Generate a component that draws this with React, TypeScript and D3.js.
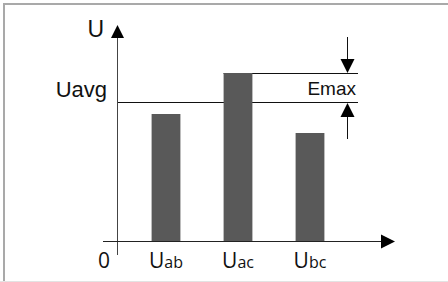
import React from 'react';
import * as d3 from 'd3';

const phases = ['ab', 'ac', 'bc'];
const voltages = [127, 168, 108];
const uAvg = 139;
const yLabels = ['U', 'Uavg', 'Emax'];

const W = 448, H = 282;
const x0 = 241; // y of zero line

const App = () => {
    const x = d3.scaleBand()
        .domain(phases)
        .range([130, 346])
        .paddingInner(0.6)
        .paddingOuter(0.3);

    const y = d3.scaleLinear()
        .domain([0, 200])
        .range([x0, x0 - 200]);

    const axisX = 117;
    const uacLeft = x('ac');
    const eTop = y(d3.max(voltages));
    const eBot = y(uAvg);
    const arrX = 347;
    const sans = 'Arial, "Liberation Sans", sans-serif';
    const label = '"Open Sans", sans-serif';

    return (
        <svg width={W} height={H} style={{ position: 'absolute', left: 0, top: 0 }}>
            <rect width={W} height={H} fill="#fff" />
            <path d={`M4,${H} V4 H${W}`} fill="none" stroke="#a9a9a9" strokeWidth={2} />
            <line x1={0} x2={W} y1={281.5} y2={281.5} stroke="#e3e3e3" />

            {/* avg and max lines */}
            <line x1={axisX} x2={358} y1={eBot + 0.5} y2={eBot + 0.5} stroke="#111" />
            <line x1={uacLeft} x2={358} y1={eTop + 0.5} y2={eTop + 0.5} stroke="#111" />

            {phases.map((p, i) => (
                <rect key={p} x={x(p)} y={y(voltages[i])} width={x.bandwidth()}
                    height={x0 - y(voltages[i])} fill="#595959" />
            ))}

            {/* axes */}
            <line x1={axisX + 0.5} x2={axisX + 0.5} y1={36} y2={255} stroke="#444" />
            <path d={`M${axisX + 0.5},25 L${axisX + 7},38 L${axisX - 6},38 Z`} fill="#000" />
            <line x1={103} x2={383} y1={x0 + 0.5} y2={x0 + 0.5} stroke="#222" />
            <path d={`M395,${x0 + 0.5} L381,${x0 - 6.5} L381,${x0 + 7.5} Z`} fill="#000" />

            {/* Emax arrows */}
            <line x1={arrX + 0.5} x2={arrX + 0.5} y1={37} y2={60} stroke="#111" />
            <path d={`M${arrX + 0.5},${eTop} L${arrX - 6.5},${eTop - 14} L${arrX + 7.5},${eTop - 14} Z`} fill="#000" />
            <line x1={arrX + 0.5} x2={arrX + 0.5} y1={eBot + 12} y2={139} stroke="#111" />
            <path d={`M${arrX + 0.5},${eBot + 1} L${arrX - 6.5},${eBot + 15} L${arrX + 7.5},${eBot + 15} Z`} fill="#000" />

            <g fontFamily={sans} fill="#111">
                <text x={104} y={37} fontSize={23} textAnchor="end">{yLabels[0]}</text>
                <text x={107} y={97} fontSize={22} textAnchor="end">{yLabels[1]}</text>
                <text x={356} y={95} fontSize={19} textAnchor="end">{yLabels[2]}</text>
            </g>

            <g fontFamily={label} fill="#111">
                <text x={110} y={268} fontSize={21} textAnchor="end">0</text>
                {phases.map(p => (
                    <text key={p} x={x(p) + x.bandwidth() / 2} y={268} textAnchor="middle" fontSize={21}>
                        U<tspan fontSize={16}>{p}</tspan>
                    </text>
                ))}
            </g>
        </svg>
    );
};

export default App;
